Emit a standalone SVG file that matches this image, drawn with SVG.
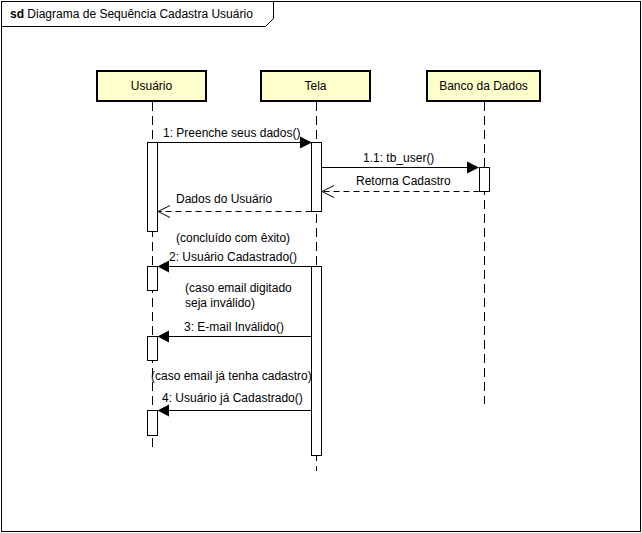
<svg xmlns="http://www.w3.org/2000/svg" width="642" height="533" viewBox="0 0 642 533">
<defs>
<style>
text{font-family:"Liberation Sans",Arial,sans-serif;font-size:12px;fill:#000}
.head{fill:#ffffcc;stroke:#000;stroke-width:2}
.life{stroke:#000;stroke-width:1;stroke-dasharray:9 5;fill:none}
.act{fill:#fff;stroke:#000;stroke-width:1}
.msg{stroke:#000;stroke-width:1;fill:none}
.ret{stroke:#000;stroke-width:1;fill:none;stroke-dasharray:6 4}
.fill{fill:#000;stroke:none}
.open{fill:none;stroke:#000;stroke-width:1}
</style>
</defs>
<rect x="0" y="0" width="642" height="533" fill="#fff"/>
<g id="frame">
<rect x="1.5" y="1.5" width="639" height="530" fill="none" stroke="#000" stroke-width="1"/>
<path d="M1.5 26.5 H265.5 L273.5 18.5 V1.5" fill="none" stroke="#000" stroke-width="1"/>
<text x="10" y="18"><tspan font-weight="bold">sd</tspan> Diagrama de Sequência Cadastra Usuário</text>
</g>
<g id="usuario">
<line class="life" x1="152.5" y1="102" x2="152.5" y2="451"/>
<rect class="head" x="97" y="71" width="109" height="30"/>
<text x="151.5" y="90" text-anchor="middle">Usuário</text>
<rect class="act" x="147.5" y="142.5" width="10" height="89"/>
<rect class="act" x="147.5" y="266.5" width="10" height="24"/>
<rect class="act" x="147.5" y="336.5" width="10" height="24"/>
<rect class="act" x="147.5" y="410.5" width="10" height="25"/>
</g>
<g id="tela">
<line class="life" x1="316.5" y1="102" x2="316.5" y2="471"/>
<rect class="head" x="261" y="71" width="109" height="30"/>
<text x="315.5" y="90" text-anchor="middle">Tela</text>
<rect class="act" x="311.5" y="142.5" width="10" height="69"/>
<rect class="act" x="311.5" y="266.5" width="10" height="189"/>
</g>
<g id="banco">
<line class="life" x1="484.5" y1="102" x2="484.5" y2="404"/>
<rect class="head" x="427" y="71" width="113" height="30"/>
<text x="483.5" y="90" text-anchor="middle">Banco da Dados</text>
<rect class="act" x="479.5" y="167.5" width="10" height="24"/>
</g>
<g id="connectors">
<line class="msg" x1="157.5" y1="142.5" x2="302" y2="142.5"/>
<polygon class="fill" points="300,136.5 312,142.5 300,148.5"/>
<text x="163" y="137">1: Preenche seus dados()</text>

<line class="msg" x1="321.5" y1="167.5" x2="470" y2="167.5"/>
<polygon class="fill" points="467,161.5 479,167.5 467,173.5"/>
<text x="363" y="162">1.1: tb_user()</text>

<line class="ret" x1="479.5" y1="191.5" x2="322" y2="191.5"/>
<polyline class="open" points="334,185.5 322,191.5 334,197.5"/>
<text x="356" y="185">Retorna Cadastro</text>

<line class="ret" x1="311.5" y1="211.5" x2="158" y2="211.5"/>
<polyline class="open" points="170,205.5 158,211.5 170,217.5"/>
<text x="176" y="203">Dados do Usuário</text>

<text x="176" y="242">(concluído com êxito)</text>

<line class="msg" x1="311.5" y1="266.5" x2="167" y2="266.5"/>
<polygon class="fill" points="169,260.5 157.5,266.5 169,272.5"/>
<text x="169" y="261">2: Usuário Cadastrado()</text>

<text x="185" y="292">(caso email digitado</text>
<text x="185" y="307">seja inválido)</text>

<line class="msg" x1="311.5" y1="336.5" x2="167" y2="336.5"/>
<polygon class="fill" points="169,330.5 157.5,336.5 169,342.5"/>
<text x="184" y="331">3: E-mail Inválido()</text>

<text x="151" y="380">(caso email já tenha cadastro)</text>

<line class="msg" x1="311.5" y1="410.5" x2="167" y2="410.5"/>
<polygon class="fill" points="169,404.5 157.5,410.5 169,416.5"/>
<text x="162" y="402">4: Usuário já Cadastrado()</text>
</g>
</svg>
